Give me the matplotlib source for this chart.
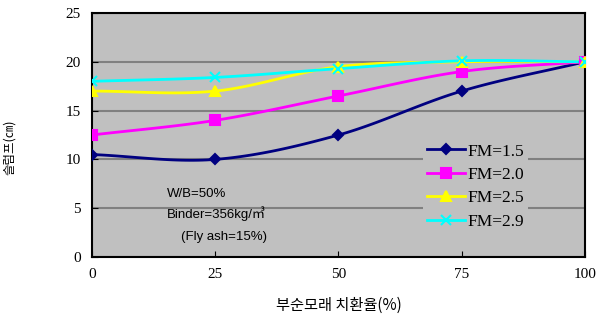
import numpy as np
import matplotlib.pyplot as plt

plt.rcParams['font.family'] = ['Noto Sans CJK KR', 'DejaVu Sans']

replace = [0, 25, 50, 75, 100]
fm15 = [10.5, 10.0, 12.5, 17.0, 20.0]
fm20 = [12.5, 14.0, 16.5, 19.0, 20.0]
fm25 = [17.0, 17.0, 19.5, 20.0, 20.0]
fm29 = [18.0, 18.4, 19.3, 20.1, 20.0]


def smooth(x, y, n=30):
    # catmull-rom through the points, like a spreadsheet "smoothed line"
    x = np.asarray(x, float)
    y = np.asarray(y, float)
    px = np.concatenate([[2 * x[0] - x[1]], x, [2 * x[-1] - x[-2]]])
    py = np.concatenate([[2 * y[0] - y[1]], y, [2 * y[-1] - y[-2]]])
    xs, ys = [], []
    t = np.linspace(0, 1, n)
    for i in range(1, len(px) - 2):
        for p, out in ((px, xs), (py, ys)):
            p0, p1, p2, p3 = p[i - 1], p[i], p[i + 1], p[i + 2]
            out.extend(0.5 * ((2 * p1) + (-p0 + p2) * t
                              + (2 * p0 - 5 * p1 + 4 * p2 - p3) * t ** 2
                              + (-p0 + 3 * p1 - 3 * p2 + p3) * t ** 3))
    return xs, ys


fig = plt.figure(figsize=(5.98, 3.22), dpi=100)
ax = fig.add_axes([0.1538, 0.2019, 0.8244, 0.7577])
ax.set_facecolor('#c0c0c0')

series = [
    (fm15, 'FM=1.5', '#000080', 'D', 5),
    (fm20, 'FM=2.0', '#ff00ff', 's', 7),
    (fm25, 'FM=2.5', '#ffff00', '^', 7),
    (fm29, 'FM=2.9', '#00ffff', 'x', 7),
]
for ys, lab, col, mk, ms in series:
    sx, sy = smooth(replace, ys)
    ax.plot(sx, sy, color=col, lw=2, zorder=3)
    ax.plot(replace, ys, ls='none', marker=mk, color=col, ms=ms,
            mew=1.5, zorder=4)
    ax.plot([], [], color=col, lw=2, marker=mk, ms=ms, mew=1.5, label=lab)

ax.set_xlim(0, 100)
ax.set_ylim(0, 25)
ax.set_xticks(replace)
ax.set_yticks(np.arange(0, 26, 5))
ax.grid(axis='y', color='#808080', lw=1.5, zorder=1)
ax.set_axisbelow(True)
ax.tick_params(direction='in', length=4, labelsize=11, pad=8)
for lbl in ax.get_xticklabels() + ax.get_yticklabels():
    lbl.set_fontfamily(['Liberation Serif', 'DejaVu Serif'])
for s in ax.spines.values():
    s.set_linewidth(1.5)

ax.set_xlabel('부순모래 치환율(%)', fontsize=11, labelpad=11)
ax.set_ylabel('슬럼프(㎝)', fontsize=9)
ax.yaxis.set_label_coords(-0.155, 0.45)

leg = ax.legend(loc='upper left', bbox_to_anchor=(0.672, 0.48), frameon=True,
                fontsize=12.5, handlelength=2.2, handletextpad=0.15,
                labelspacing=0.42, borderpad=0.2, borderaxespad=0)
leg.get_frame().set_facecolor('#c0c0c0')
leg.get_frame().set_edgecolor('none')
leg.get_frame().set_alpha(1)
for t in leg.get_texts():
    t.set_fontfamily(['Liberation Serif', 'DejaVu Serif'])

ax.text(0.152, 0.245, 'W/B=50%', transform=ax.transAxes, fontsize=9.5,
        family=['Liberation Sans', 'DejaVu Sans'])
ax.text(0.152, 0.16, 'Binder=356kg/㎥', transform=ax.transAxes, fontsize=9.5,
        family=['Liberation Sans', 'Noto Sans CJK KR'])
ax.text(0.18, 0.07, '(Fly ash=15%)', transform=ax.transAxes, fontsize=9.5,
        family=['Liberation Sans', 'DejaVu Sans'])

fig.savefig('out.png', dpi=100)
